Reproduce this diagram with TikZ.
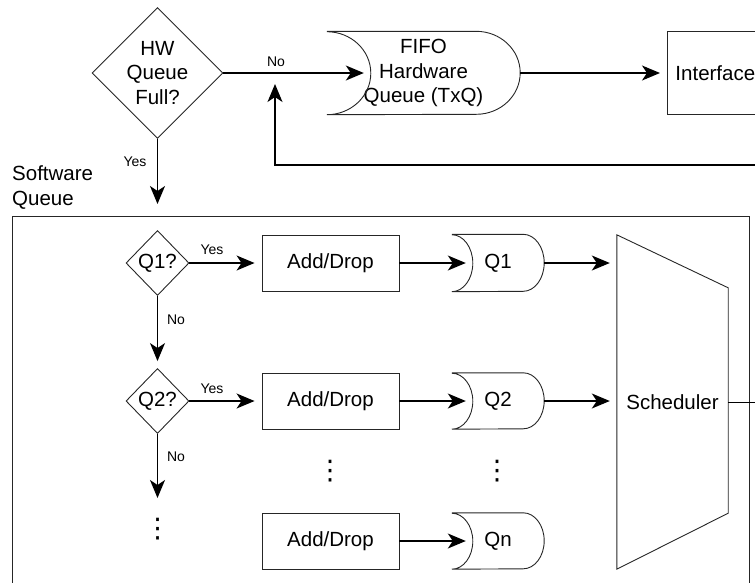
\documentclass[tikz,border=0pt]{standalone}
\usepackage{fontspec}
\setmainfont{Liberation Sans}
\newfontfamily\symfont{DejaVu Sans}
\usetikzlibrary{arrows.meta,shapes.geometric}
\def\queueshape(#1)(#2,#3){\draw[shapeline] (#1.north west) -- ([xshift=-#2]#1.north east) arc[start angle=90,end angle=-90,x radius=#2,y radius=#3] -- (#1.south west) arc[start angle=-90,end angle=90,x radius=#2,y radius=#3];}
\tikzset{
	shapeline/.style={line width=0.9pt, draw=black!85},
	conn/.style={line width=1.4pt, -{Stealth[length=18pt,width=15pt,inset=5pt]}, shorten >=7pt},
	txt/.style={font=\fontsize{20.5}{24.5}\selectfont},
	lbl/.style={font=\fontsize{14}{16}\selectfont, inner sep=0pt},
	vdotsnode/.style={font=\symfont\fontsize{27}{30}\selectfont, inner sep=0pt},
	decision/.style={diamond, shapeline, txt, aspect=1, inner sep=0pt, align=center},
	block/.style={rectangle, shapeline, txt, minimum width=137pt, minimum height=56pt},
	queue/.style={rectangle, txt, inner sep=0pt, minimum height=57pt}
}

\begin{document}
\begin{tikzpicture}[x=1pt,y=-1pt]
		%%%%% START %%%%%
		\useasboundingbox (0,0) rectangle (755,582);
		\clip (0,0) rectangle (755,582);
		
		% hardware part
		\node[decision, minimum size=131pt] (hwfull) at (157.5,73) {HW\\Queue\\Full?};
		\node[queue, minimum width=193pt, minimum height=83pt, align=center] (fifo) at (423.5,73) {FIFO\\Hardware\\Queue (TxQ)};
		\queueshape(fifo)(44pt,41.5pt)
		\node[rectangle, shapeline, txt, anchor=west, minimum height=83pt, inner xsep=8pt] (iface) at (667,73) {Interface};
		
		\node[lbl] (nohw) at (276,62) {No};
		\draw[conn] (hwfull) -- ([xshift=44pt]fifo.west);
		\draw[conn] (fifo) -- (iface);
		
		\coordinate (fbstart) at (760,165);
		\coordinate (fbend) at (275,77);
		\draw[conn] (fbstart) -| (fbend);
		
		\node[lbl] (yeshw) at (135,162) {Yes};
		\coordinate (swin) at (157.5,211);
		\draw[conn] (hwfull) -- (swin);
		
		% software queue
		\node[txt, anchor=west, align=left, inner sep=0pt] (swlabel) at (12,187.5) {Software\\Queue};
		\draw[shapeline] (12,216) rectangle (749,620);
		
		\node[txt, minimum width=111pt, minimum height=334pt, inner sep=0pt] (sched) at (672.5,402) {Scheduler};
		\draw[shapeline] (sched.north west) -- ([yshift=-53pt]sched.north east) -- ([yshift=56pt]sched.south east) -- (sched.south west) -- cycle;
		\coordinate (schedout) at (760,402);
		\draw[line width=0.9pt] (sched.east) -- (schedout);
		
		% row 1
		\node[decision, minimum width=63pt, minimum height=65pt] (q1chk) at (157.5,263) {Q1?};
		\node[block] (add1) at (330.5,263) {Add/Drop};
		\node[queue, minimum width=92pt] (q1) at (498,263) {Q1};
		\queueshape(q1)(21pt,28.5pt)
		\node[lbl] (yes1) at (212,250) {Yes};
		\node[lbl] (no1) at (176,320) {No};
		\draw[conn] (q1chk) -- (add1);
		\draw[conn] (add1) -- ([xshift=21pt]q1.west);
		\draw[conn] (q1) -- (q1 -| sched.west);
		
		% row 2
		\node[decision, minimum width=63pt, minimum height=65pt] (q2chk) at (157.5,401) {Q2?};
		\node[block] (add2) at (330.5,401) {Add/Drop};
		\node[queue, minimum width=92pt, minimum height=56pt] (q2) at (498,401) {Q2};
		\queueshape(q2)(21pt,28pt)
		\node[lbl] (yes2) at (212,389) {Yes};
		\node[lbl] (no2) at (176,457) {No};
		\draw[conn] (q1chk) -- (q2chk);
		\draw[conn] (q2chk) -- (add2);
		\draw[conn] (add2) -- ([xshift=21pt]q2.west);
		\draw[conn] (q2) -- (q2 -| sched.west);
		\coordinate (chkmore) at (157.5,505);
		\draw[conn] (q2chk) -- (chkmore);
		
		% row n
		\node[block] (add3) at (330.5,541) {Add/Drop};
		\node[queue, minimum width=92pt, minimum height=56pt] (qn) at (498,541) {Qn};
		\queueshape(qn)(21pt,28pt)
		\draw[conn] (add3) -- ([xshift=21pt]qn.west);
		
		\node[vdotsnode] (dotsa) at (157.5,529) {⋮};
		\node[vdotsnode] (dotsb) at (330,471) {⋮};
		\node[vdotsnode] (dotsc) at (497,471) {⋮};
		
		%%%%% END %%%%%
	\end{tikzpicture}
\end{document}
